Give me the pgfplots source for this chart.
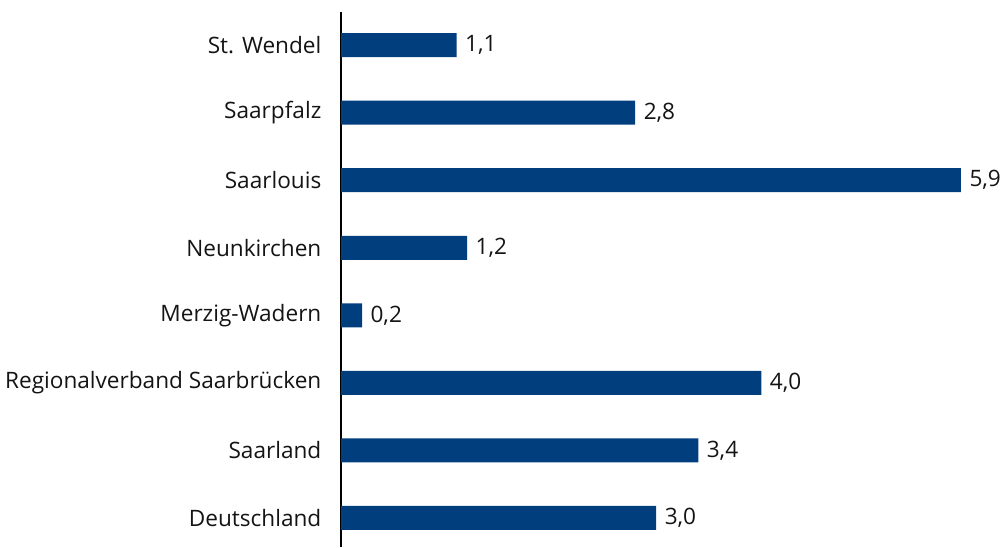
\documentclass[border=0pt]{standalone}
\usepackage{fontspec}
\setmainfont{Open Sans}
\usepackage{pgfplots}
\pgfplotsset{compat=1.18}
\definecolor{barblue}{RGB}{0,62,126}
\definecolor{txt}{RGB}{20,20,20}

\begin{document}
\begin{tikzpicture}
\path[use as bounding box] (0,0) rectangle (1003pt,547pt);
\begin{axis}[
  at={(341pt,0pt)}, anchor=south west,
  scale only axis,
  width=662pt, height=535pt,
  xbar, bar width=24pt,
  xmin=0, xmax=6.3,
  ymin=-0.43, ymax=7.49,
  axis x line=none,
  axis y line=left,
  y axis line style={-, black, line width=1.2pt},
  ytick={0,...,7},
  yticklabels={Deutschland,Saarland,Regionalverband Saarbrücken,Merzig-Wadern,Neunkirchen,Saarlouis,Saarpfalz,St. Wendel},
  ytick style={draw=none},
  yticklabel style={font=\fontsize{22.6}{27}\selectfont, text=txt, xshift=-14pt},
  nodes near coords,
  nodes near coords style={font=\fontsize{22.6}{27}\selectfont, text=txt, xshift=5pt,
    /pgf/number format/.cd, use comma, fixed, fixed zerofill, precision=1, assume math mode=true},
]
\addplot[draw=none, fill=barblue] coordinates {
  (3.0,0) (3.4,1) (4.0,2) (0.2,3) (1.2,4) (5.9,5) (2.8,6) (1.1,7)
};
\end{axis}
\end{tikzpicture}
\end{document}
